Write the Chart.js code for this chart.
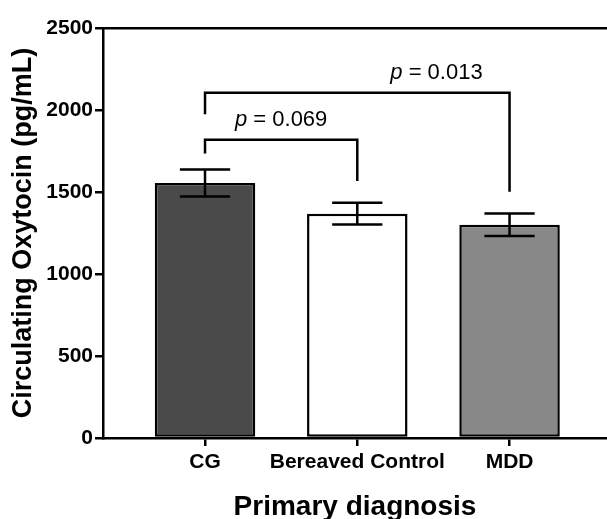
<!DOCTYPE html>
<html>
<head>
<meta charset="utf-8">
<script src="https://cdn.jsdelivr.net/npm/chart.js@4"></script>
<style>
  html, body { margin: 0; padding: 0; background: #fff; }
  #wrap { width: 607px; height: 519px; position: relative; }
</style>
</head>
<body>
<div id="wrap"><canvas id="oxyChart"></canvas></div>
<script>
// Data
var categories = ['CG', 'Bereaved Control', 'MDD'];
var means = [1555, 1368, 1300];
var sem = [82, 66, 69];
var yTicks = [0, 500, 1000, 1500, 2000, 2500];

// Comparison brackets (values in pg/mL)
var compFrom = [0, 0];
var compTo = [1, 2];
var compTop = [1818, 2105];
var compLeftEnd = [1734, 1974];
var compRightEnd = [1567, 1501];
var pValues = ['0.069', '0.013'];
var pLabelX = [0.5, 1.52];
var pLabelY = [1902, 2189];

var FONT = "'Liberation Sans', Arial, Helvetica, sans-serif";

document.addEventListener('DOMContentLoaded', function () {
    var ctx = document.getElementById('oxyChart').getContext('2d');

    // error bars, brackets and p labels
    var annotate = {
        id: 'annotate',
        afterDatasetsDraw: function (chart) {
            var c = chart.ctx;
            var x = chart.scales.x, y = chart.scales.y;
            var bars = chart.getDatasetMeta(0).data;
            c.save();
            c.strokeStyle = '#000';
            c.lineWidth = 2.5;
            c.lineJoin = 'miter';

            for (var i = 0; i < means.length; i++) {
                var cx = x.getPixelForValue(i);
                var half = bars[i].width / 4;
                var hi = y.getPixelForValue(means[i] + sem[i]);
                var lo = y.getPixelForValue(means[i] - sem[i]);
                c.beginPath();
                c.moveTo(cx, hi); c.lineTo(cx, lo);
                c.moveTo(cx - half, hi); c.lineTo(cx + half, hi);
                c.moveTo(cx - half, lo); c.lineTo(cx + half, lo);
                c.stroke();
            }

            for (var j = 0; j < compFrom.length; j++) {
                var x0 = x.getPixelForValue(compFrom[j]);
                var x1 = x.getPixelForValue(compTo[j]);
                var top = y.getPixelForValue(compTop[j]);
                c.beginPath();
                c.moveTo(x0, y.getPixelForValue(compLeftEnd[j]));
                c.lineTo(x0, top);
                c.lineTo(x1, top);
                c.lineTo(x1, y.getPixelForValue(compRightEnd[j]));
                c.stroke();

                // "p = ..." with italic p
                var pFont = 'italic 22px ' + FONT;
                var rest = ' = ' + pValues[j];
                var restFont = '22px ' + FONT;
                c.font = pFont;
                var w1 = c.measureText('p').width;
                c.font = restFont;
                var w2 = c.measureText(rest).width;
                var lx = x.getPixelForValue(pLabelX[j]) - (w1 + w2) / 2;
                var ly = y.getPixelForValue(pLabelY[j]);
                c.fillStyle = '#000';
                c.textBaseline = 'alphabetic';
                c.textAlign = 'left';
                c.font = pFont;
                c.fillText('p', lx, ly);
                c.font = restFont;
                c.fillText(rest, lx + w1, ly);
            }
            c.restore();
        }
    };

    var oxyChart = new Chart(ctx, {
        type: 'bar',
        data: {
            datasets: [{
                label: 'Circulating Oxytocin',
                data: categories.map(function (c, i) { return { x: i, y: means[i] }; }),
                backgroundColor: ['#4a4a4a', '#ffffff', '#888888'],
                borderColor: '#000',
                borderWidth: 2.5,
                borderSkipped: false,
                barPercentage: 0.66,
                categoryPercentage: 1.0
            }]
        },
        options: {
            responsive: true,
            maintainAspectRatio: false,
            animation: false,
            layout: { padding: { top: 20, right: 0, bottom: 0, left: 0 } },
            plugins: {
                legend: { display: false },
                tooltip: { enabled: false }
            },
            scales: {
                x: {
                    type: 'linear',
                    offset: false,
                    min: -0.67,
                    max: 2.64,
                    afterBuildTicks: function (scale) {
                        scale.ticks = categories.map(function (c, i) { return { value: i }; });
                    },
                    afterFit: function (scale) { scale.height = 81; },
                    ticks: {
                        callback: function (v) { return categories[v]; },
                        autoSkip: false,
                        maxRotation: 0,
                        color: '#000',
                        padding: 4,
                        font: { family: FONT, size: 21, weight: 'bold' }
                    },
                    grid: {
                        display: true,
                        offset: false,
                        drawOnChartArea: false,
                        drawTicks: true,
                        tickLength: 8,
                        color: '#000',
                        lineWidth: 2.5
                    },
                    border: { display: true, color: '#000', width: 2.5 },
                    title: {
                        display: true,
                        text: 'Primary diagnosis',
                        color: '#000',
                        font: { family: FONT, size: 28, weight: 'bold', lineHeight: 1 },
                        padding: { top: 0, bottom: -2 }
                    }
                },
                y: {
                    min: 0,
                    max: 2500,
                    afterBuildTicks: function (scale) {
                        scale.ticks = yTicks.map(function (v) { return { value: v }; });
                    },
                    afterFit: function (scale) { scale.width = 103; },
                    ticks: {
                        callback: function (v) { return String(v); },
                        color: '#000',
                        padding: 2,
                        font: { family: FONT, size: 21, weight: 'bold' }
                    },
                    grid: {
                        display: true,
                        drawOnChartArea: false,
                        drawTicks: true,
                        tickLength: 8,
                        color: '#000',
                        lineWidth: 2.5
                    },
                    border: { display: true, color: '#000', width: 2.5 },
                    title: {
                        display: true,
                        text: 'Circulating Oxytocin (pg/mL)',
                        color: '#000',
                        font: { family: FONT, size: 27, weight: 'bold', lineHeight: 1 },
                        padding: { top: 10, bottom: 0 }
                    }
                },
                top: {
                    type: 'linear',
                    axis: 'x',
                    position: 'top',
                    ticks: { display: false },
                    grid: { display: false },
                    border: { display: true, color: '#000', width: 2.5 }
                }
            }
        },
        plugins: [annotate]
    });
});
</script>
</body>
</html>
